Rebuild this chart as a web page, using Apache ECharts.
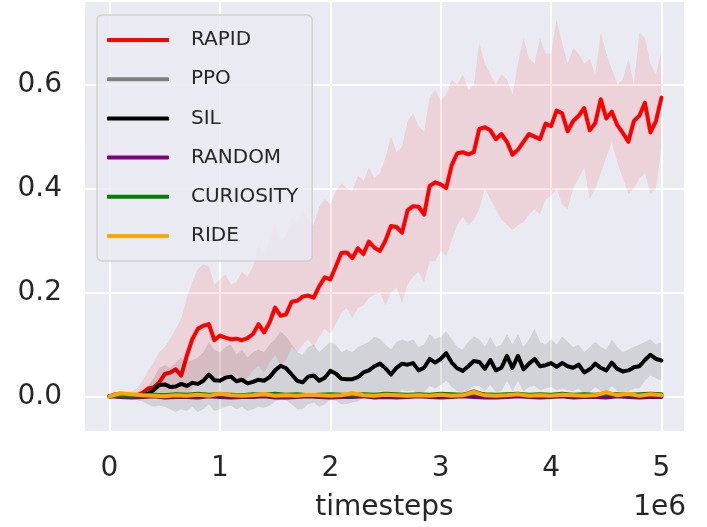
<!DOCTYPE html>
<html>
<head>
    <meta charset="UTF-8">
    <title>RAPID vs baselines</title>
    <script src="https://cdn.jsdelivr.net/npm/echarts/dist/echarts.min.js"></script>
    <style>
        html, body { margin: 0; padding: 0; background: #ffffff; }
        #main { width: 707px; height: 527px; }
    </style>
</head>
<body>
<div id="main"></div>
<script type="text/javascript">
    // timesteps (x 1e6)
    var steps = [0,0.05,0.1,0.15,0.2,0.25,0.3,0.35,0.4,0.45,0.5,0.55,0.6,0.65,0.7,0.75,0.8,0.85,0.9,0.95,
        1,1.05,1.1,1.15,1.2,1.25,1.3,1.35,1.4,1.45,1.5,1.55,1.6,1.65,1.7,1.75,1.8,1.85,1.9,1.95,
        2,2.05,2.1,2.15,2.2,2.25,2.3,2.35,2.4,2.45,2.5,2.55,2.6,2.65,2.7,2.75,2.8,2.85,2.9,2.95,
        3,3.05,3.1,3.15,3.2,3.25,3.3,3.35,3.4,3.45,3.5,3.55,3.6,3.65,3.7,3.75,3.8,3.85,3.9,3.95,
        4,4.05,4.1,4.15,4.2,4.25,4.3,4.35,4.4,4.45,4.5,4.55,4.6,4.65,4.7,4.75,4.8,4.85,4.9,4.95,5];

    var rapidMean = [0.000,0.004,0.004,0.001,0.002,0.002,0.007,0.015,0.017,0.027,
        0.043,0.046,0.052,0.040,0.078,0.110,0.130,0.136,0.139,0.108,
        0.117,0.113,0.110,0.111,0.108,0.112,0.120,0.139,0.123,0.142,
        0.171,0.155,0.158,0.182,0.184,0.192,0.194,0.190,0.212,0.229,
        0.225,0.250,0.276,0.277,0.266,0.285,0.274,0.298,0.286,0.280,
        0.300,0.328,0.326,0.315,0.358,0.366,0.365,0.350,0.405,0.412,
        0.408,0.401,0.445,0.468,0.470,0.466,0.470,0.515,0.518,0.512,
        0.495,0.505,0.490,0.465,0.475,0.490,0.505,0.500,0.495,0.525,
        0.520,0.550,0.545,0.510,0.530,0.540,0.555,0.512,0.526,0.572,
        0.535,0.548,0.522,0.507,0.490,0.530,0.540,0.565,0.508,0.530,0.575];
    var rapidHigh = [0.005,0.008,0.010,0.008,0.010,0.015,0.030,0.050,0.065,0.085,
        0.095,0.110,0.130,0.150,0.190,0.220,0.245,0.255,0.250,0.215,
        0.225,0.235,0.215,0.220,0.240,0.230,0.250,0.290,0.275,0.300,
        0.335,0.300,0.310,0.345,0.330,0.355,0.340,0.330,0.365,0.380,
        0.370,0.395,0.410,0.400,0.395,0.425,0.415,0.440,0.420,0.430,
        0.460,0.500,0.470,0.480,0.530,0.545,0.520,0.510,0.575,0.590,
        0.570,0.580,0.610,0.600,0.620,0.590,0.600,0.680,0.640,0.620,
        0.600,0.620,0.610,0.580,0.640,0.690,0.650,0.640,0.690,0.660,
        0.660,0.725,0.680,0.640,0.670,0.660,0.640,0.650,0.620,0.700,
        0.660,0.630,0.600,0.610,0.650,0.600,0.700,0.690,0.640,0.620,0.665];
    var rapidLow = [-0.002,0.000,0.000,-0.003,-0.002,-0.005,-0.006,-0.005,-0.004,0.000,
        0.005,0.002,0.000,-0.004,0.002,0.015,0.030,0.035,0.045,0.030,
        0.040,0.035,0.045,0.040,0.030,0.035,0.050,0.060,0.045,0.065,
        0.080,0.060,0.070,0.095,0.085,0.100,0.110,0.095,0.115,0.130,
        0.120,0.140,0.160,0.170,0.150,0.170,0.175,0.190,0.195,0.200,
        0.175,0.200,0.210,0.180,0.215,0.230,0.240,0.220,0.260,0.260,
        0.280,0.270,0.300,0.330,0.345,0.330,0.340,0.360,0.400,0.380,
        0.360,0.340,0.330,0.320,0.330,0.335,0.350,0.360,0.350,0.380,
        0.385,0.400,0.370,0.360,0.400,0.420,0.440,0.380,0.400,0.430,
        0.460,0.490,0.450,0.420,0.390,0.400,0.420,0.430,0.390,0.400,0.480];

    var silMean = [0.000,0.001,0.000,0.000,0.000,0.001,0.002,0.005,0.012,0.022,
        0.023,0.018,0.019,0.024,0.020,0.026,0.024,0.030,0.042,0.031,
        0.030,0.036,0.038,0.029,0.032,0.025,0.028,0.032,0.030,0.037,
        0.050,0.059,0.054,0.042,0.030,0.027,0.038,0.040,0.030,0.036,
        0.049,0.044,0.034,0.033,0.033,0.037,0.046,0.050,0.058,0.063,
        0.054,0.042,0.055,0.063,0.061,0.064,0.050,0.055,0.072,0.065,
        0.072,0.083,0.065,0.054,0.049,0.058,0.068,0.066,0.053,0.070,
        0.050,0.055,0.078,0.055,0.078,0.052,0.063,0.072,0.058,0.060,
        0.064,0.057,0.064,0.058,0.055,0.061,0.046,0.052,0.063,0.055,
        0.050,0.065,0.053,0.048,0.050,0.056,0.058,0.070,0.080,0.072,0.069];
    var silHigh = [0.003,0.004,0.003,0.004,0.006,0.008,0.012,0.020,0.035,0.055,
        0.060,0.055,0.065,0.075,0.065,0.070,0.075,0.085,0.105,0.090,
        0.085,0.095,0.100,0.080,0.090,0.075,0.085,0.090,0.085,0.100,
        0.110,0.125,0.115,0.100,0.085,0.080,0.095,0.100,0.085,0.095,
        0.105,0.100,0.085,0.090,0.085,0.095,0.100,0.105,0.115,0.110,
        0.100,0.090,0.105,0.110,0.105,0.110,0.095,0.100,0.120,0.110,
        0.115,0.125,0.110,0.095,0.090,0.105,0.115,0.110,0.095,0.115,
        0.095,0.100,0.120,0.100,0.120,0.095,0.110,0.130,0.105,0.100,
        0.110,0.100,0.115,0.105,0.095,0.100,0.085,0.095,0.105,0.095,
        0.090,0.110,0.095,0.085,0.090,0.095,0.100,0.105,0.110,0.100,0.105];
    var silLow = [-0.003,-0.002,-0.003,-0.003,-0.005,-0.007,-0.010,-0.015,-0.020,-0.018,
        -0.020,-0.025,-0.030,-0.025,-0.028,-0.020,-0.030,-0.025,-0.015,-0.028,
        -0.025,-0.020,-0.018,-0.025,-0.020,-0.028,-0.025,-0.020,-0.022,-0.018,
        -0.010,-0.005,-0.008,-0.015,-0.025,-0.025,-0.015,-0.012,-0.020,-0.015,
        -0.005,-0.008,-0.015,-0.015,-0.012,-0.010,-0.002,0.000,0.005,0.010,
        0.005,-0.005,0.005,0.012,0.010,0.012,0.002,0.008,0.020,0.015,
        0.022,0.030,0.018,0.010,0.008,0.012,0.020,0.020,0.010,0.022,
        0.008,0.010,0.030,0.010,0.030,0.010,0.018,0.020,0.012,0.015,
        0.018,0.012,0.015,0.012,0.010,0.015,0.005,0.008,0.018,0.010,
        0.008,0.020,0.010,0.008,0.010,0.015,0.015,0.030,0.040,0.035,0.030];

    // the near-zero baselines, sampled every 0.1e6
    var stepsCoarse = [0,0.1,0.2,0.3,0.4,0.5,0.6,0.7,0.8,0.9,1,1.1,1.2,1.3,1.4,1.5,1.6,1.7,1.8,1.9,
        2,2.1,2.2,2.3,2.4,2.5,2.6,2.7,2.8,2.9,3,3.1,3.2,3.3,3.4,3.5,3.6,3.7,3.8,3.9,
        4,4.1,4.2,4.3,4.4,4.5,4.6,4.7,4.8,4.9,5];
    var ppoMean = [0.000,0.001,0.001,0.000,0.001,0.002,0.001,0.001,0.002,0.001,
        0.002,0.001,0.002,0.001,0.002,0.001,0.001,0.002,0.001,0.002,
        0.001,0.002,0.001,0.002,0.001,0.002,0.001,0.002,0.001,0.002,
        0.001,0.002,0.003,0.010,0.003,0.001,0.002,0.001,0.002,0.001,
        0.002,0.001,0.002,0.001,0.002,0.001,0.002,0.004,0.001,0.002,0.001];
    var randomMean = [0.000,-0.001,-0.002,-0.001,0.000,-0.002,-0.001,-0.001,-0.002,0.000,
        -0.001,-0.002,-0.001,-0.001,0.000,-0.002,-0.002,-0.001,0.000,-0.001,
        -0.002,-0.001,-0.001,0.000,-0.002,-0.001,-0.002,-0.001,0.000,-0.001,
        -0.002,-0.001,0.000,-0.001,-0.002,-0.002,-0.001,0.000,-0.001,-0.002,
        -0.001,0.000,-0.002,-0.001,-0.001,-0.002,0.000,-0.001,-0.002,-0.001,-0.001];
    var curiosityMean = [0.000,0.002,0.001,0.002,0.003,0.002,0.004,0.003,0.005,0.003,
        0.004,0.003,0.002,0.004,0.003,0.005,0.003,0.004,0.002,0.003,
        0.004,0.003,0.002,0.004,0.003,0.005,0.004,0.003,0.004,0.003,
        0.005,0.004,0.003,0.006,0.004,0.003,0.004,0.005,0.003,0.004,
        0.003,0.005,0.003,0.004,0.003,0.005,0.004,0.003,0.004,0.005,0.004];
    var rideMean = [0.000,0.006,0.004,0.002,0.001,0.000,0.002,0.001,0.003,0.001,
        0.005,0.002,0.001,0.002,0.004,0.001,0.002,0.001,0.003,0.002,
        0.001,0.002,0.006,0.002,0.001,0.003,0.002,0.001,0.002,0.001,
        0.003,0.001,0.002,0.008,0.002,0.001,0.002,0.004,0.001,0.002,
        0.001,0.003,0.002,0.001,0.002,0.008,0.002,0.005,0.001,0.004,0.002];

    var names = ['RAPID', 'PPO', 'SIL', 'RANDOM', 'CURIOSITY', 'RIDE'];
    var colors = ['#ff0000', '#808080', '#000000', '#800080', '#008000', '#ffa500'];

    var textColor = '#262626';
    var fontFamily = 'DejaVu Sans';

    function pairs(xs, ys) {
        return xs.map(function (x, i) { return [x, ys[i]]; });
    }

    // shaded band (min/max) as one polygon, placed through the axes
    function band(name, xs, lo, hi, fill, z) {
        return {
            type: 'custom',
            name: name,
            z: z,
            silent: true,
            data: [[xs[0], lo[0]]],
            encode: { x: 0, y: 1 },
            renderItem: function (params, api) {
                var pts = [];
                for (var i = 0; i < xs.length; i++) pts.push(api.coord([xs[i], hi[i]]));
                for (var j = xs.length - 1; j >= 0; j--) pts.push(api.coord([xs[j], lo[j]]));
                return { type: 'polygon', shape: { points: pts }, style: { fill: fill } };
            }
        };
    }

    function line(name, xs, ys, color, z) {
        return {
            type: 'line',
            name: name,
            z: z,
            data: pairs(xs, ys),
            showSymbol: false,
            symbol: 'none',
            color: color,
            lineStyle: { color: color, width: 4, join: 'round', cap: 'round' },
            emphasis: { disabled: true }
        };
    }

    var myChart = echarts.init(document.getElementById('main'), null, { renderer: 'canvas' });

    var option = {
        animation: false,
        backgroundColor: '#ffffff',
        textStyle: { fontFamily: fontFamily },
        grid: {
            left: 84, right: 22, top: 1, bottom: 94,
            show: true, backgroundColor: '#eaeaf2', borderWidth: 0
        },
        xAxis: {
            type: 'value',
            min: -0.231,
            max: 5.213,
            splitNumber: 5,
            name: 'timesteps',
            nameLocation: 'middle',
            nameGap: 62,
            nameTextStyle: { color: textColor, fontSize: 28, fontFamily: fontFamily },
            axisLine: { show: false },
            axisTick: { show: false },
            axisLabel: {
                color: textColor, fontSize: 28, fontFamily: fontFamily, margin: 23,
                showMinLabel: false, showMaxLabel: false,
                formatter: function (v) { return String(Math.round(v)); }
            },
            splitLine: { show: true, lineStyle: { color: '#ffffff', width: 2 } }
        },
        yAxis: {
            type: 'value',
            min: -0.0686,
            max: 0.761,
            splitNumber: 5,
            axisLine: { show: false },
            axisTick: { show: false },
            axisLabel: {
                color: textColor, fontSize: 28, fontFamily: fontFamily, margin: 22,
                showMinLabel: false, showMaxLabel: false,
                formatter: function (v) { return v.toFixed(1); }
            },
            splitLine: { show: true, lineStyle: { color: '#ffffff', width: 2 } }
        },
        legend: {
            data: names,
            orient: 'vertical',
            left: 97,
            top: 15,
            z: 20,
            icon: 'roundRect',
            itemWidth: 62,
            itemHeight: 4,
            itemGap: 15.2,
            padding: [13, 14, 13, 10],
            backgroundColor: 'rgba(234,234,242,0.8)',
            borderColor: 'rgba(204,204,204,0.8)',
            borderWidth: 1.5,
            borderRadius: 5,
            textStyle: {
                color: textColor, fontSize: 20, fontFamily: fontFamily,
                lineHeight: 24, padding: [0, 0, 0, 17]
            }
        },
        graphic: [{
            type: 'text',
            right: 21,
            top: 494,
            z: 10,
            style: { text: '1e6', fill: textColor, font: '28px "DejaVu Sans"' }
        }],
        series: [
            band('RAPID band', steps, rapidLow, rapidHigh, 'rgba(255,0,0,0.1)', 2),
            line('RAPID', steps, rapidMean, colors[0], 3),
            line('PPO', stepsCoarse, ppoMean, colors[1], 5),
            band('SIL band', steps, silLow, silHigh, 'rgba(0,0,0,0.1)', 6),
            line('SIL', steps, silMean, colors[2], 7),
            line('RANDOM', stepsCoarse, randomMean, colors[3], 8),
            line('CURIOSITY', stepsCoarse, curiosityMean, colors[4], 9),
            line('RIDE', stepsCoarse, rideMean, colors[5], 10)
        ]
    };
    myChart.setOption(option);
</script>
</body>
</html>
